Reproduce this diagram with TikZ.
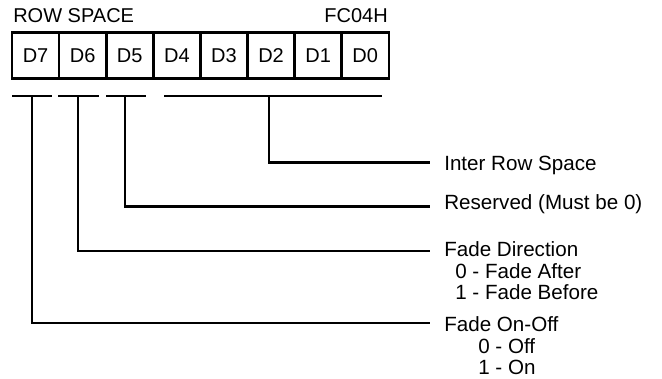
\documentclass[tikz,border=0pt]{standalone}
\usepackage{fontspec}
\setmainfont{Liberation Sans}
\begin{document}
\begin{tikzpicture}[x=1pt,y=-1pt,line width=2.6pt,
  cell/.style={draw,line width=2.6pt,minimum width=47.1pt,minimum height=46.5pt,inner sep=0pt,
    font=\fontsize{20}{24}\selectfont,text height=14pt,text depth=0pt},
  ttl/.style={inner sep=0pt,font=\fontsize{20}{24}\selectfont},
  lbl/.style={inner sep=0pt,anchor=base west,font=\fontsize{20.6}{24}\selectfont},
  bar/.style={line width=2.8pt},
  conn/.style={line width=2.6pt}]
\useasboundingbox (0,0) rectangle (662,379);
% title
\node[ttl,anchor=base west] (title) at (12,22.7) {ROW SPACE};
\node[ttl,anchor=base east] (addr) at (389,22.7) {FC04H};
% register cells
\foreach \n [count=\i from 0] in {7,6,5,4,3,2,1,0}
  \node[cell] (d\n) at ({12+47.1*(\i+0.5)},55.5) {D\n};
% bars
\coordinate (b7l) at (12,96);  \coordinate (b7r) at (52,96);
\coordinate (b6l) at (58,96);  \coordinate (b6r) at (99,96);
\coordinate (b5l) at (106,96); \coordinate (b5r) at (146,96);
\coordinate (b0l) at (164,96); \coordinate (b0r) at (382,96);
\draw[bar] (b7l) -- (b7r);
\draw[bar] (b6l) -- (b6r);
\draw[bar] (b5l) -- (b5r);
\draw[bar] (b0l) -- (b0r);
\coordinate (t7) at (32,96);
\coordinate (t6) at (78,96);
\coordinate (t5) at (125,96);
\coordinate (t0) at (269,96);
% labels
\node[lbl] (l0) at (443,170.5) {Inter Row Space};
\node[lbl] (l5) at (443,210) {Reserved (Must be 0)};
\node[lbl] (l6) at (443,257) {Fade Direction};
\node[lbl] (l6a) at (454,278.5) {0 - Fade After};
\node[lbl] (l6b) at (454,299.5) {1 - Fade Before};
\node[lbl] (l7) at (443,332) {Fade On-Off};
\node[lbl] (l7a) at (477,353.5) {0 - Off};
\node[lbl] (l7b) at (477,374.5) {1 - On};
% connector ends
\coordinate (e0) at (429.5,162.5);
\coordinate (e5) at (429.5,206.5);
\coordinate (e6) at (429.5,251);
\coordinate (e7) at (429.5,323);
\draw[conn] (t0) |- (e0);
\draw[conn] (t5) |- (e5);
\draw[conn] (t6) |- (e6);
\draw[conn] (t7) |- (e7);
\end{tikzpicture}
\end{document}
